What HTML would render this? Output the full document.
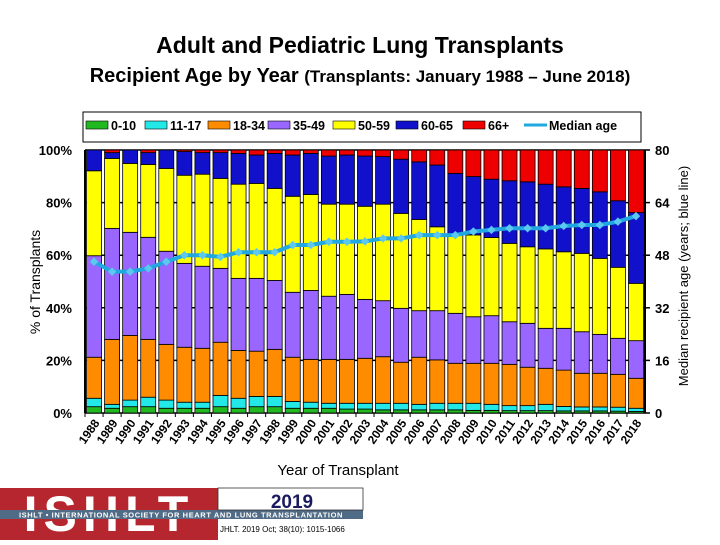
<!DOCTYPE html>
<html><head><meta charset="utf-8"><style>
body{margin:0;background:#fff;}
svg text{font-family:"Liberation Sans",Arial,sans-serif;}
</style></head><body>
<svg id="chart" width="720" height="540" viewBox="0 0 720 540" xmlns="http://www.w3.org/2000/svg">
<text x="360" y="53" text-anchor="middle" font-size="23" font-weight="bold" fill="#000">Adult and Pediatric Lung Transplants</text>
<text x="360" y="82" text-anchor="middle" font-weight="bold" fill="#000"><tspan font-size="20">Recipient Age by Year </tspan><tspan font-size="17">(Transplants: January 1988 – June 2018)</tspan></text>
<g id="legend"></g>
<g id="plot"></g>
<text transform="translate(40,282) rotate(-90)" text-anchor="middle" font-size="14" fill="#000">% of Transplants</text>
<text transform="translate(688,276) rotate(-90)" text-anchor="middle" font-size="13" fill="#000">Median recipient age (years; blue line)</text>
<text x="338" y="475" text-anchor="middle" font-size="15" fill="#000">Year of Transplant</text>
<g>
<rect x="0" y="488" width="218" height="52" fill="#b5262e"/>
<text x="109" y="531" text-anchor="middle" font-size="50" font-weight="bold" fill="#fff" letter-spacing="6">ISHLT</text>
<rect x="0" y="510" width="363" height="9" fill="#4f6b86"/>
<text x="181" y="517.5" text-anchor="middle" font-size="7.5" font-weight="bold" fill="#fff" letter-spacing="0.6">ISHLT • INTERNATIONAL SOCIETY FOR HEART AND LUNG TRANSPLANTATION</text>
<rect x="218" y="488" width="145" height="22" fill="#fff" stroke="#333" stroke-width="0.8"/>
<text x="292" y="508" text-anchor="middle" font-size="19" font-weight="bold" fill="#1a1a5e">2019</text>
<text x="220" y="532" font-size="8" fill="#000">JHLT. 2019 Oct; 38(10): 1015-1066</text>
</g>
</svg>
<script>
const years = ["1988","1989","1990","1991","1992","1993","1994","1995","1996","1997","1998","1999","2000","2001","2002","2003","2004","2005","2006","2007","2008","2009","2010","2011","2012","2013","2014","2015","2016","2017","2018"];
const age0to10 = [2.4,1.8,2.4,2.4,1.8,1.8,1.8,2.4,1.8,2.4,2.4,1.8,1.8,1.8,1.5,1.5,1.2,1.2,1.2,1.2,1.2,1.0,1.0,0.9,0.9,0.9,0.8,0.8,0.8,0.7,0.6];
const age11to17 = [3.2,1.5,2.5,3.6,3.1,2.3,2.3,4.3,3.8,3.9,3.9,2.6,2.3,1.9,2.2,2.2,2.5,2.5,2.1,2.5,2.5,2.7,2.3,1.9,1.9,2.4,1.7,1.5,1.5,1.5,1.2];
const age18to34 = [15.6,24.7,24.6,22,21.2,20.9,20.5,20.2,18.2,17.2,17.9,16.8,16.3,16.7,16.7,17.1,17.7,15.6,17.9,16.5,15.2,15.2,15.6,15.7,14.6,13.7,13.8,12.8,12.8,12.5,11.4];
const age35to49 = [38.6,42.2,39.2,38.8,35.4,31.9,31.2,28.1,27.4,27.7,26.2,24.7,26.2,24,24.7,22.4,21.3,20.5,17.7,18.7,19,17.7,18.1,16.2,16.7,15.2,15.9,15.8,14.8,13.7,14.3];
const age50to59 = [32.3,26.6,26.2,27.7,31.5,33.5,35,34.2,35.8,36.1,35,36.5,36.5,35,34.3,35.4,36.7,36.1,34.7,31.9,29.8,31.1,29.7,29.8,29.1,30.2,29.1,29.8,28.9,27,21.8];
const age60to65 = [7.9,2.2,5.1,4.5,7,9,8.2,9.8,11.7,10.8,13.3,15.7,15.6,18.3,18.7,19.1,18.1,20.6,21.9,23.5,23.4,22.2,22.2,23.8,24.7,24.6,24.7,24.7,25.3,25.3,26.9];
const age66plus = [0,1,0,1,0,0.6,1,1,1.3,1.9,1.3,1.9,1.3,2.3,1.9,2.3,2.5,3.5,4.5,5.7,8.9,10.1,11.1,11.7,12.1,13,14,14.6,15.9,19.3,23.8];
const medianAge = [46,43,43,44,46,48,48,47.5,48.9,48.9,48.9,51.1,51.1,52.1,52.1,52.2,53.1,53.1,54.1,54.1,54.1,55.2,55.7,56.2,56.2,56.2,56.9,57.2,57.2,58.2,59.9];
const leftTicks = ["0%","20%","40%","60%","80%","100%"];
const rightTicks = ["0","16","32","48","64","80"];
const seriesNames = ["0-10","11-17","18-34","35-49","50-59","60-65","66+"];

const NS="http://www.w3.org/2000/svg";
const X0=85,X1=645,Y0=413,Y1=150;
const pitch=(X1-X0)/years.length, bw=15;
const yPct=v=>Y0-(v/100)*(Y0-Y1);
const yAge=v=>Y0-(v/80)*(Y0-Y1);
const xC=i=>X0+pitch*(i+0.5);
function mk(tag,attrs,parent){const e=document.createElementNS(NS,tag);for(const k in attrs)e.setAttribute(k,attrs[k]);parent.appendChild(e);return e;}
const plot=document.getElementById('plot');
const series=[age0to10,age11to17,age18to34,age35to49,age50to59,age60to65,age66plus];
const colors=["#22b822","#22e8e8","#ff8c00","#9966ff","#ffff00","#1111cc","#ee0000"];
for(let k=0;k<leftTicks.length;k++){
  const y=yPct(k*20);
  const g=mk('line',{x1:X0,x2:X1,y1:y,y2:y,stroke:'#000','stroke-width':1.5},plot);
  
  
  const t=mk('text',{x:72,y:y+5,'text-anchor':'end','font-size':13,'font-weight':'bold',fill:'#000'},plot);
  t.textContent=leftTicks[k];
  
  
  const t2=mk('text',{x:655,y:y+5,'font-size':13,'font-weight':'bold',fill:'#000'},plot);
  t2.textContent=rightTicks[k];
  
  
  mk('line',{x1:X1,x2:X1+5,y1:y,y2:y,stroke:'#000','stroke-width':1.5},plot);
}
years.forEach((yr,i)=>{
  let cum=0;
  series.forEach((s,j)=>{
    const v=s[i]; if(v<=0)return;
    const r=mk('rect',{x:xC(i)-bw/2,y:yPct(cum+v),width:bw,height:yPct(cum)-yPct(cum+v),fill:colors[j],stroke:'#000','stroke-width':0.8},plot);
    
    
    cum+=v;
  });
  const t=mk('text',{transform:`translate(${xC(i)+6},${Y0+10}) rotate(-55)`,'text-anchor':'end','font-size':12,'font-weight':'bold',fill:'#000'},plot);
  t.textContent=yr;
  
  
  mk('line',{x1:X0+pitch*i,x2:X0+pitch*i,y1:Y0,y2:Y0+4,stroke:'#000'},plot);
});
const ax=mk('line',{x1:X0,x2:X0,y1:Y1,y2:Y0,stroke:'#000','stroke-width':2},plot);


const ax2=mk('line',{x1:X1,x2:X1,y1:Y1,y2:Y0,stroke:'#000','stroke-width':2},plot);


const pts=medianAge.map((v,i)=>xC(i)+','+yAge(v)).join(' ');
const pl=mk('polyline',{points:pts,fill:'none',stroke:'#22a8e0','stroke-width':4},plot);


medianAge.forEach((v,i)=>{
  const c=mk('rect',{x:xC(i)-3,y:yAge(v)-3,width:6,height:6,fill:'#5cc8f0',transform:`rotate(45 ${xC(i)} ${yAge(v)})`},plot);
  
  
});
const lg=document.getElementById('legend');
mk('rect',{x:83,y:112,width:558,height:30,fill:'#fff',stroke:'#000','stroke-width':1},lg);
const swX=[86,145,208,268,333,396,463];
seriesNames.forEach((n,j)=>{
  const r=mk('rect',{x:swX[j],y:121,width:22,height:8,fill:colors[j],stroke:'#000','stroke-width':0.6},lg);
  
  
  const t=mk('text',{x:swX[j]+25,y:130,'font-size':12.5,'font-weight':'bold',fill:'#000'},lg);
  t.textContent=n;
  
  
});
mk('line',{x1:524,x2:547,y1:125,y2:125,stroke:'#22a8e0','stroke-width':3},lg);
const lt=mk('text',{x:549,y:130,'font-size':12.5,'font-weight':'bold',fill:'#000'},lg);
lt.textContent='Median age';


</script>
</body></html>
